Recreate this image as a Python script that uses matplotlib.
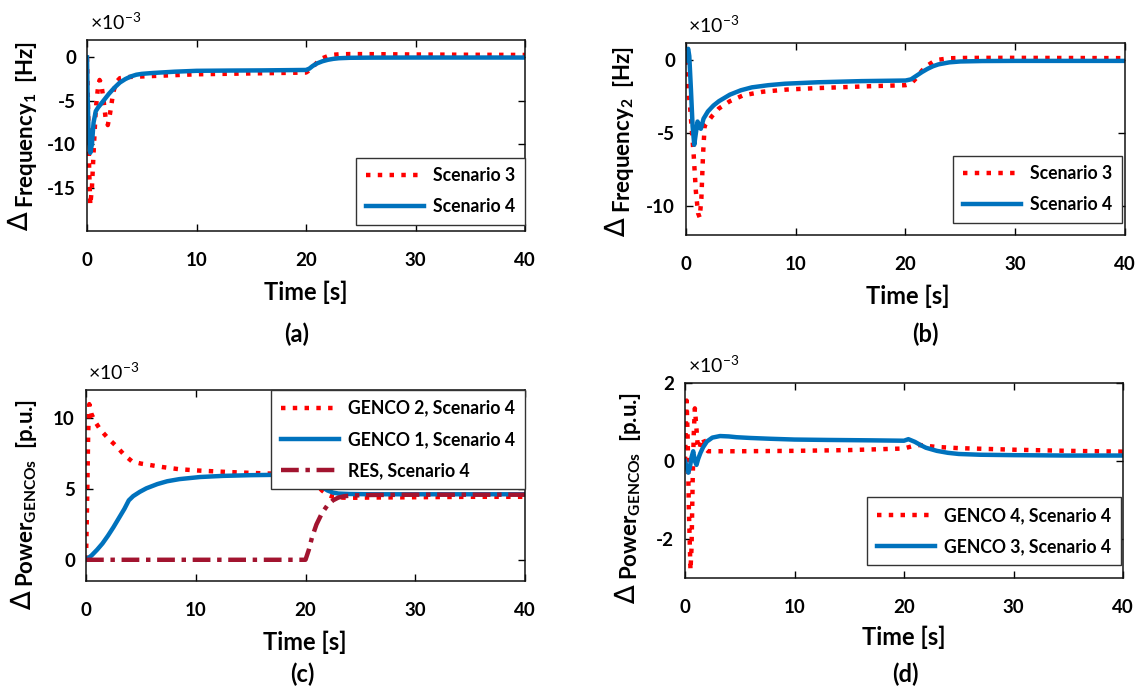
import matplotlib
matplotlib.use("Agg")
import matplotlib.pyplot as plt

plt.rcParams['font.family'] = ['Lato', 'DejaVu Sans']
plt.rcParams['font.weight'] = 'bold'
plt.rcParams['mathtext.fontset'] = 'custom'
plt.rcParams['mathtext.rm'] = 'Lato:bold'
plt.rcParams['mathtext.bf'] = 'Lato:bold'
plt.rcParams['mathtext.it'] = 'Lato:bold'

# ---------------- data ----------------
# (a) Delta Frequency 1 [x1e-3 Hz]
a_s4_t = [0, 0.05, 0.15, 0.3, 0.45, 0.6, 0.8, 1.0, 1.5, 2.0, 2.5, 3.0, 3.5, 4.0, 4.5, 5, 6, 8, 10, 13, 16, 20,
          20.3, 20.6, 21, 21.5, 22, 22.5, 23, 24, 26, 30, 35, 40]
a_s4_v = [0, -4, -9, -11, -10, -7.5, -6.2, -5.8, -5.0, -4.2, -3.5, -2.9, -2.5, -2.2, -2.0, -1.9, -1.8, -1.65, -1.55,
          -1.52, -1.5, -1.45, -1.3, -1.0, -0.7, -0.45, -0.28, -0.17, -0.1, -0.05, -0.03, -0.02, -0.02, -0.02]
a_s3_t = [0, 0.1, 0.2, 0.3, 0.45, 0.6, 0.8, 1.0, 1.15, 1.3, 1.5, 1.7, 1.9, 2.1, 2.4, 2.7, 3.0, 3.5, 4, 5, 6, 8, 10,
          15, 20, 20.3, 20.7, 21, 21.5, 22, 22.5, 23, 24, 26, 30, 35, 40]
a_s3_v = [0, -6, -13, -17, -15, -11, -6, -3.5, -2.6, -3.0, -4.8, -7.0, -7.8, -6.5, -4.0, -2.8, -2.4, -2.3, -2.25,
          -2.2, -2.15, -2.05, -1.95, -1.85, -1.75, -1.5, -1.0, -0.6, -0.1, 0.15, 0.3, 0.35, 0.38, 0.37, 0.33, 0.3, 0.28]

# (b) Delta Frequency 2 [x1e-3 Hz]
b_s4_t = [0, 0.1, 0.2, 0.3, 0.45, 0.6, 0.75, 0.9, 1.05, 1.2, 1.35, 1.6, 2.0, 2.5, 3.0, 4.0, 5.0, 6.0, 7.5, 9, 12, 16,
          20, 20.5, 21, 21.5, 22, 22.5, 23, 24, 25, 27, 30, 35, 40]
b_s4_v = [0, 0.6, 0.8, 0.3, -2.0, -4.5, -5.8, -5.0, -4.2, -4.5, -4.7, -4.0, -3.5, -3.1, -2.8, -2.35, -2.05, -1.85,
          -1.7, -1.6, -1.5, -1.42, -1.38, -1.3, -1.05, -0.8, -0.58, -0.4, -0.27, -0.13, -0.07, -0.04, -0.03, -0.03, -0.03]
b_s3_t = [0, 0.1, 0.2, 0.35, 0.5, 0.7, 0.9, 1.1, 1.25, 1.4, 1.55, 1.7, 2.0, 2.4, 3.0, 4.0, 5.2, 7, 9.2, 12, 16.8, 20,
          20.5, 21, 21.5, 22, 22.5, 23, 24, 25, 27, 30, 35, 40]
b_s3_v = [0, -0.5, -2.0, -3.0, -4.5, -6.5, -9.0, -10.5, -10.8, -9.5, -6.5, -4.5, -4.2, -3.8, -3.3, -2.8, -2.4, -2.15,
          -2.0, -1.9, -1.77, -1.7, -1.6, -1.2, -0.7, -0.35, -0.1, 0.05, 0.15, 0.17, 0.18, 0.18, 0.17, 0.16]

# (c) Delta Power GENCOs [x1e-3 p.u.]
c_g2_t = [0, 0.1, 0.2, 0.3, 0.5, 0.8, 1.3, 2.0, 2.8, 3.5, 4.2, 5.0, 5.8, 7, 8.5, 10.4, 13, 16.5, 20, 20.5, 21, 21.5,
          22, 22.5, 23, 24, 26, 30, 35, 40]
c_g2_v = [0, 4, 9, 11.0, 10.3, 9.8, 9.2, 8.6, 8.0, 7.4, 6.95, 6.8, 6.7, 6.55, 6.4, 6.3, 6.2, 6.1, 6.05, 5.8, 5.3,
          4.9, 4.6, 4.45, 4.4, 4.38, 4.4, 4.42, 4.45, 4.45]
c_g1_t = [0, 0.5, 1.0, 1.5, 2.0, 2.5, 3.0, 3.5, 3.9, 4.3, 4.9, 5.5, 6.5, 7.4, 8.5, 10.4, 12.5, 15, 17, 20, 20.5, 21,
          21.5, 22, 22.5, 23, 24, 26, 30, 35, 40]
c_g1_v = [0, 0.3, 0.7, 1.15, 1.7, 2.3, 2.95, 3.6, 4.2, 4.5, 4.8, 5.05, 5.35, 5.55, 5.7, 5.85, 5.93, 5.98, 6.0, 6.0,
          5.85, 5.5, 5.15, 4.9, 4.75, 4.68, 4.65, 4.63, 4.63, 4.63, 4.63]
c_res_t = [0, 20, 20.3, 20.6, 21, 21.5, 22, 22.5, 23, 23.6, 24.5, 26, 30, 40]
c_res_v = [0, 0, 0.7, 1.6, 2.5, 3.3, 3.85, 4.2, 4.4, 4.5, 4.55, 4.58, 4.6, 4.6]

# (d) Delta Power GENCOs [x1e-3 p.u.]
d_g4_t = [0, 0.08, 0.15, 0.25, 0.35, 0.5, 0.6, 0.7, 0.8, 0.9, 1.0, 1.15, 1.3, 1.45, 1.6, 1.75, 1.9, 2.1, 2.5, 3, 5,
          10, 15, 20, 20.5, 21, 21.5, 22, 23, 25, 30, 35, 40]
d_g4_v = [0, 1.0, 1.55, 0.5, -1.2, -2.8, -2.2, -0.5, 0.7, 1.35, 1.0, 0.45, 0.3, 0.45, 0.6, 0.5, 0.3, 0.25, 0.25,
          0.25, 0.25, 0.26, 0.28, 0.32, 0.36, 0.4, 0.41, 0.39, 0.36, 0.33, 0.29, 0.26, 0.24]
d_g3_t = [0, 0.15, 0.3, 0.45, 0.6, 0.75, 0.9, 1.05, 1.2, 1.4, 1.65, 2.0, 2.5, 3.2, 4.0, 4.7, 6, 7.8, 10, 13, 16.9, 20,
          20.4, 21, 21.5, 22, 23, 24, 25, 27, 30, 35, 40]
d_g3_v = [0, -0.15, -0.3, -0.15, 0.1, 0.25, 0.0, -0.1, 0.05, 0.2, 0.35, 0.5, 0.6, 0.64, 0.63, 0.61, 0.59, 0.57, 0.55,
          0.54, 0.53, 0.52, 0.56, 0.49, 0.41, 0.34, 0.26, 0.21, 0.18, 0.16, 0.15, 0.14, 0.14]

xticks = [0, 10, 20, 30, 40]
legend_a = ['Scenario 3', 'Scenario 4']
legend_c = ['GENCO 2, Scenario 4', 'GENCO 1, Scenario 4', 'RES, Scenario 4']
legend_d = ['GENCO 4, Scenario 4', 'GENCO 3, Scenario 4']

RED = '#FF0000'
BLUE = '#0072BD'
DRED = '#A2142F'

W, H = 1142, 689
fig = plt.figure(figsize=(W / 100, H / 100), dpi=100)


def add_ax(left, top, right, bottom):
    return fig.add_axes([left / W, 1 - bottom / H, (right - left) / W, (bottom - top) / H])


def style(ax, ylim, yticks):
    ax.set_xlim(0, 40)
    ax.set_ylim(*ylim)
    ax.set_xticks(xticks)
    ax.set_yticks(yticks)
    ax.set_xticklabels([str(v) for v in xticks])
    ax.set_yticklabels([str(v) for v in yticks])
    ax.tick_params(direction='in', top=True, right=True, length=5, width=1,
                   labelsize=13.5, pad=8)
    ax.tick_params(axis='x', pad=15)
    for lab in ax.get_xticklabels() + ax.get_yticklabels():
        lab.set_fontweight('bold')
    for sp in ax.spines.values():
        sp.set_linewidth(1.1)
        sp.set_color('#111111')


def px_text(x, y, s, **kw):
    return fig.text(x / W, 1 - y / H, s, **kw)


lw_dot = 3.2
lw_sol = 3.2
leg_kw = dict(borderaxespad=0, fancybox=False, edgecolor='#333333', framealpha=1,
              prop={'weight': 'bold', 'size': 12.7}, handlelength=3.3, labelspacing=0.8,
              borderpad=0.55, handletextpad=0.5)

# (a)
ax = add_ax(87, 40, 525, 231)
ax.plot(a_s3_t, a_s3_v, color=RED, ls=':', lw=lw_dot, label=legend_a[0])
ax.plot(a_s4_t, a_s4_v, color=BLUE, ls='-', lw=lw_sol, label=legend_a[1])
style(ax, (-20, 2), [-15, -10, -5, 0])
ax.legend(loc='lower right', bbox_to_anchor=(1.0, 0.031), **leg_kw)

# (b)
ax = add_ax(686, 43, 1125, 235)
ax.plot(b_s3_t, b_s3_v, color=RED, ls=':', lw=lw_dot, label=legend_a[0])
ax.plot(b_s4_t, b_s4_v, color=BLUE, ls='-', lw=lw_sol, label=legend_a[1])
style(ax, (-12, 1.2), [-10, -5, 0])
ax.legend(loc='lower right', bbox_to_anchor=(0.993, 0.062), **leg_kw)

# (c)
ax = add_ax(86, 390, 525, 581)
ax.plot(c_g2_t, c_g2_v, color=RED, ls=':', lw=lw_dot, label=legend_c[0])
ax.plot(c_g1_t, c_g1_v, color=BLUE, ls='-', lw=lw_sol, label=legend_c[1])
ax.plot(c_res_t, c_res_v, color=DRED, ls=(0, (4, 1.5, 1, 1.5)), lw=lw_sol, label=legend_c[2])
style(ax, (-1.5, 12), [0, 5, 10])
ax.legend(loc='upper right', bbox_to_anchor=(1.0, 1.0), **leg_kw)

# (d)
ax = add_ax(685, 383, 1123, 578)
ax.plot(d_g4_t, d_g4_v, color=RED, ls=':', lw=lw_dot, label=legend_d[0])
ax.plot(d_g3_t, d_g3_v, color=BLUE, ls='-', lw=lw_sol, label=legend_d[1])
style(ax, (-3, 2), [-2, 0, 2])
ax.legend(loc='lower right', bbox_to_anchor=(0.995, 0.067), **leg_kw)

# exponent labels
for (x, y) in [(90, 30), (688, 33), (88, 380), (688, 373)]:
    px_text(x, y, r'$\mathregular{\times 10^{-3}}$', fontsize=14, fontweight='normal',
            ha='left', va='baseline')

# y labels: delta sign + label text (rotated)
ylabels = [
    # (delta right edge x, delta top y, text baseline x, text start y, text)
    (28, 212, 33, 208, 'Frequency$_{\\mathbf{1}}$  [Hz]'),
    (625, 218, 630, 213, 'Frequency$_{\\mathbf{2}}$  [Hz]'),
    (31, 591, 33, 587, 'Power$_{\\mathbf{GENCOs}}$  [p.u.]'),
    (635, 585, 637, 580, 'Power$_{\\mathbf{GENCOs}}$  [p.u.]'),
]
for dx, dy, tx, ty, s in ylabels:
    px_text(dx, dy, '\u2206', family='DejaVu Sans', fontweight='normal', fontsize=20,
            rotation=90, rotation_mode='anchor', ha='right', va='baseline')
    px_text(tx, ty, s, fontsize=16, fontweight='bold',
            rotation=90, rotation_mode='anchor', ha='left', va='baseline')

# x labels
for (x, y) in [(306, 292), (908, 296), (305, 642), (904, 637)]:
    px_text(x, y, 'Time [s]', ha='center', va='center', fontsize=17, fontweight='bold')

# panel labels
for (x, y), s in zip([(297, 334), (925, 334), (302, 674), (905, 674)], ['(a)', '(b)', '(c)', '(d)']):
    px_text(x, y, s, ha='center', va='center', fontsize=17, fontweight='bold')

fig.savefig('out.png', dpi=100)
